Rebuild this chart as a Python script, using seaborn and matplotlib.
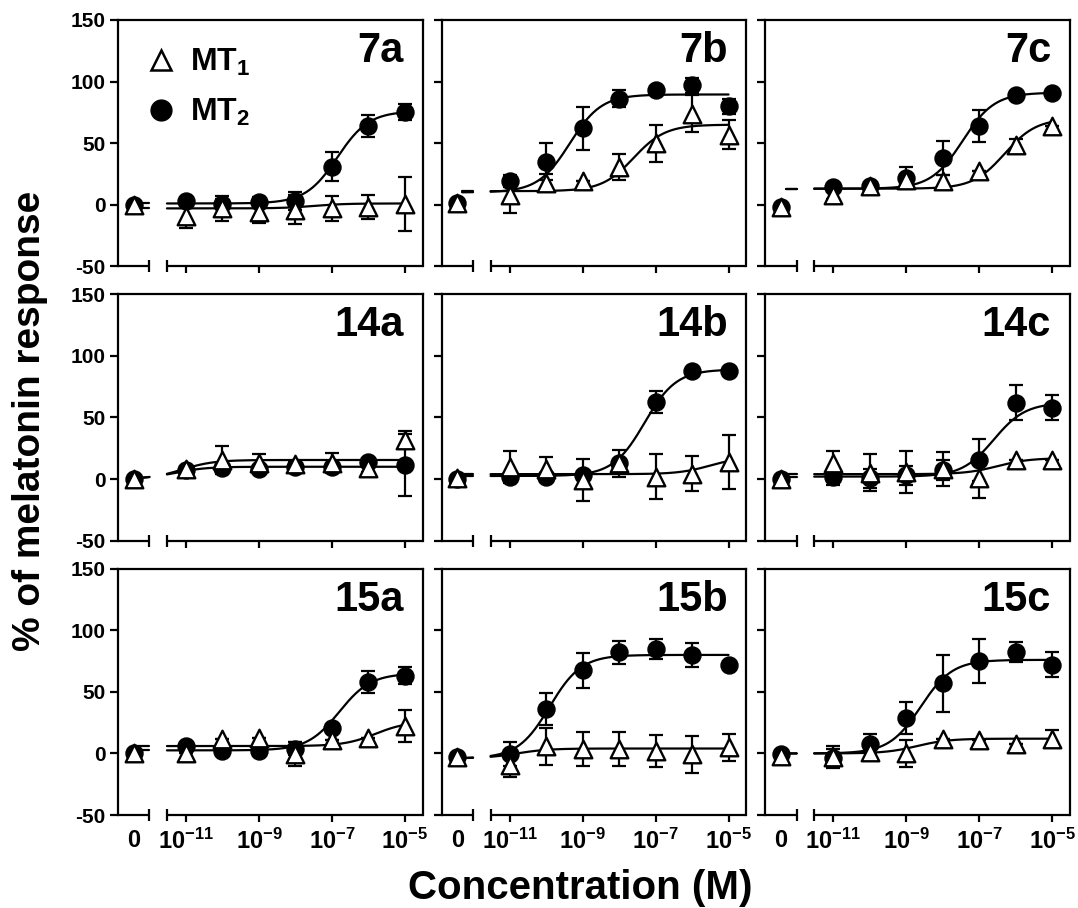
import numpy as np
import seaborn as sns
import matplotlib
matplotlib.use("Agg")
import matplotlib.pyplot as plt
from matplotlib.lines import Line2D

# panels, left to right and top to bottom
panels = ["7a", "7b", "7c", "14a", "14b", "14c", "15a", "15b", "15c"]
log_conc = [-11, -10, -9, -8, -7, -6, -5]
zero_pos = -12.43  # where the "0" (vehicle) point sits on the broken axis

# MT1 (open triangles): vehicle point, means and error bars
mt1_zero = [0, 1, -1.5, 0, 0.5, 0, 0, -2.5, -2]
mt1_mean = [
    [-9, -3, -6, -4, -3, -2, 0.5],
    [7.5, 18, 19, 30.5, 50, 74, 57],
    [8, 15, 20, 19.5, 27.5, 48.6, 63.5],
    [8, 15.5, 13, 12, 13, 9, 32],
    [10, 8, -1, 13, 2, 4.5, 14],
    [13, 5, 6, 8, 0.5, 15.5, 15.5],
    [0, 12, 12.5, -0.5, 11, 12.5, 22],
    [-9, 6, 3.5, 3.5, 2, -0.5, 5],
    [-3, 1.5, 0, 12, 11, 8, 12],
]
mt1_err = [
    [10, 10, 9, 12, 10, 10, 22],
    [14, 7, 0, 10.5, 15, 15, 12],
    [3, 0, 0, 5, 0, 5, 0],
    [2, 11, 7, 3, 8, 3, 7],
    [13, 10, 17, 11, 18, 14, 22],
    [10, 15, 17, 14, 16, 0, 0],
    [0, 0, 0, 10, 0, 0, 13],
    [10, 15, 14, 14, 13, 15, 11],
    [9, 7, 11, 0, 0, 0, 7],
]

# MT2 (filled circles)
mt2_zero = [0, 1, -1.5, 0, 0, 0, 0, -2.5, -0.5]
mt2_mean = [
    [3, 0.5, 2, 3, 31, 64, 75],
    [19, 35, 62, 86, 93.5, 97, 80],
    [14, 15, 21.6, 38, 64, 89, 91],
    [7.5, 9, 8, 10, 9.5, 14, 11.5],
    [2, 2, 3, 13, 62.5, 88, 88],
    [2, 0.5, 3, 7.5, 15.5, 62, 58],
    [5.7, 2, 2, 4, 21, 58, 63],
    [-0.5, 36, 67.5, 82, 85, 80, 72],
    [-3.5, 8, 28.5, 57, 75, 82.5, 72],
]
mt2_err = [
    [2, 4, 4, 7, 12, 9, 6.5],
    [5, 15, 17.5, 7, 0, 6, 6],
    [2, 0, 9, 14, 13, 0, 0],
    [2, 3, 2, 2, 2, 2, 25],
    [3, 3, 3, 3, 9, 0, 0],
    [7, 8, 8, 8, 17, 14, 10],
    [0, 0, 0, 5, 0, 9, 7],
    [10, 13, 14, 9, 8, 10, 0],
    [7, 8, 13, 23, 18, 8, 10],
]

# fitted curves: bottom, top, logEC50
mt1_fit = [
    [-3, 1, -7.5], [11, 65, -7.6], [13, 70, -6.3],
    [0, 15.5, -11.1], [4, 18, -5.5], [4, 17, -6.5],
    [6, 26, -5.8], [-4, 4, -10.8], [0, 12, -8.7],
]
mt2_fit = [
    [1, 76, -6.85], [10, 89.5, -9.35], [13, 91, -7.45],
    [0, 10, -11.3], [2.5, 89, -7.3], [2, 62, -6.6],
    [2.5, 65, -6.8], [-4, 80, -9.9], [0, 76, -8.6],
]


def logistic(x, bottom, top, logec50):
    return bottom + (top - bottom) / (1 + 10 ** (logec50 - x))


sns.set_theme(style="ticks")
plt.rcParams["font.family"] = ["Liberation Sans", "DejaVu Sans"]
plt.rcParams["font.weight"] = "bold"
plt.rcParams["text.color"] = "black"
plt.rcParams["axes.labelcolor"] = "black"
plt.rcParams["axes.unicode_minus"] = False
plt.rcParams["mathtext.fontset"] = "custom"
plt.rcParams["mathtext.rm"] = "Liberation Sans:bold"
plt.rcParams["mathtext.bf"] = "Liberation Sans:bold"
plt.rcParams["mathtext.default"] = "rm"

fig, axes = plt.subplots(3, 3, figsize=(10.78, 9.08), dpi=100)
fig.subplots_adjust(left=0.1095, right=0.9926, bottom=0.1024, top=0.978,
                    wspace=0.062, hspace=0.114)

x_left = np.linspace(-12.3, -12.0, 20)
x_right = np.linspace(-11.52, -5, 300)
xlo, xhi = -12.86, -4.51

for i, name in enumerate(panels):
    ax = axes.flat[i]
    row, col = divmod(i, 3)

    # fitted curves, drawn on both sides of the axis break
    for fit in (mt1_fit[i], mt2_fit[i]):
        for xs in (x_left, x_right):
            sns.lineplot(x=xs, y=logistic(xs, *fit), color="black", lw=1.6,
                         ax=ax, estimator=None, sort=False, legend=False, zorder=1)

    ax.errorbar(log_conc, mt2_mean[i], yerr=mt2_err[i], fmt="none", ecolor="black",
                elinewidth=1.6, capsize=5, capthick=1.6, zorder=2)
    ax.errorbar(log_conc, mt1_mean[i], yerr=mt1_err[i], fmt="none", ecolor="black",
                elinewidth=1.6, capsize=5, capthick=1.6, zorder=2)

    sns.scatterplot(x=[zero_pos] + log_conc, y=[mt2_zero[i]] + mt2_mean[i], marker="o",
                    s=150, color="black", edgecolor="black", linewidth=1, ax=ax, zorder=3)
    sns.scatterplot(x=[zero_pos] + log_conc, y=[mt1_zero[i]] + mt1_mean[i], marker="^",
                    s=160, color="white", edgecolor="black", linewidth=1.7, ax=ax, zorder=4)

    ax.set_xlim(xlo, xhi)
    ax.set_ylim(-50, 150)
    ax.set_xlabel("")
    ax.set_ylabel("")
    ax.set_yticks([-50, 0, 50, 100, 150])
    ax.set_xticks([zero_pos, -11, -9, -7, -5])
    if row == 2:
        ax.set_xticklabels(["0", r"$10^{-11}$", r"$10^{-9}$", r"$10^{-7}$", r"$10^{-5}$"])
    else:
        ax.set_xticklabels([])
    if col != 0:
        ax.set_yticklabels([])

    for sp in ax.spines.values():
        sp.set_linewidth(1.6)
        sp.set_color("black")
    ax.spines["bottom"].set_visible(False)
    ax.tick_params(axis="x", direction="out", length=5, width=1.6, pad=5,
                   labelsize=17, colors="black")
    ax.tick_params(axis="y", direction="out", length=6, width=1.6, pad=3,
                   labelsize=15, colors="black")
    ax.xaxis.get_major_ticks()[0].tick1line.set_visible(False)

    # broken bottom axis
    trans = ax.get_xaxis_transform()
    ax.plot([xlo, -12.0], [0, 0], transform=trans, color="black", lw=1.6,
            clip_on=False, solid_capstyle="butt")
    ax.plot([-11.52, xhi], [0, 0], transform=trans, color="black", lw=1.6,
            clip_on=False, solid_capstyle="butt")
    ax.plot([-12.0, -11.52], [0, 0], transform=trans, ls="none", marker="|",
            ms=9, mew=1.6, color="black", clip_on=False)

    ax.text(0.938, 0.955, name, transform=ax.transAxes, ha="right", va="top",
            fontsize=30, fontweight="bold", color="black")

handles = [
    Line2D([], [], ls="none", marker="^", ms=15, mfc="white", mec="black", mew=1.8),
    Line2D([], [], ls="none", marker="o", ms=15, mfc="black", mec="black"),
]
axes[0, 0].legend(handles, [r"MT$_1$", r"MT$_2$"], loc="upper left", frameon=False,
                  fontsize=23, handlelength=1.0, handletextpad=0.4,
                  labelspacing=0.6, borderaxespad=0.45, labelcolor="black")

fig.text(0.028, 0.536, "% of melatonin response", rotation=90, ha="center",
         va="center", fontsize=28, fontweight="bold", color="black")
fig.text(0.5385, 0.0095, "Concentration (M)", ha="center", va="baseline",
         fontsize=29, fontweight="bold", color="black")

fig.savefig("out.png", dpi=100, facecolor="white")
